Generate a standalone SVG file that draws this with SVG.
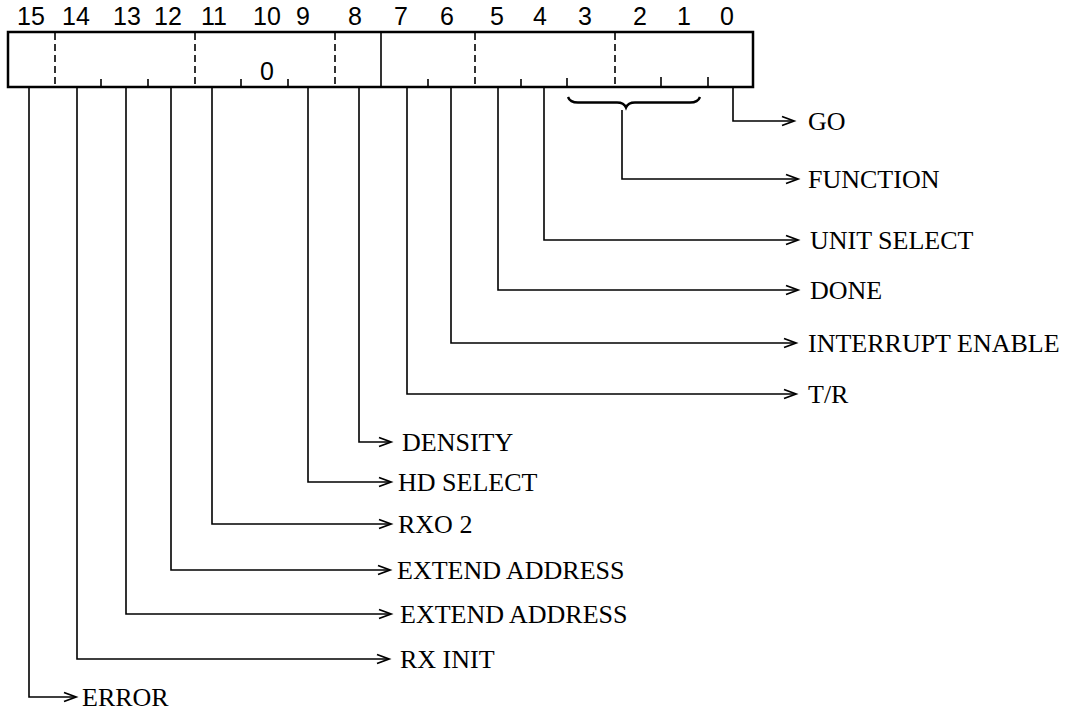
<svg xmlns="http://www.w3.org/2000/svg" width="1065" height="713" viewBox="0 0 1065 713">
<defs>
<style>
.bitnum{font-family:"Liberation Sans",Arial,sans-serif;font-size:25px;fill:#000;text-anchor:middle}
.lbl{font-family:"Liberation Serif","Times New Roman",serif;font-size:26px;fill:#000}
.conn{fill:none;stroke:#000;stroke-width:1.6}
.box{fill:#fff;stroke:#000;stroke-width:2.5}
.dash{stroke:#000;stroke-width:1.6;stroke-dasharray:7 4}
.tick{stroke:#000;stroke-width:1.6}
</style>
<marker id="arr" markerUnits="userSpaceOnUse" markerWidth="16" markerHeight="12" refX="13" refY="6" orient="auto">
<path d="M1,1.5 L13,6 L1,10.5" fill="none" stroke="#000" stroke-width="1.8"/>
</marker>
</defs>
<rect width="1065" height="713" fill="#fff"/>
<g id="bit-numbers">
<text class="bitnum" x="31" y="25">15</text>
<text class="bitnum" x="76" y="25">14</text>
<text class="bitnum" x="127" y="25">13</text>
<text class="bitnum" x="168" y="25">12</text>
<text class="bitnum" x="214" y="25">11</text>
<text class="bitnum" x="267" y="25">10</text>
<text class="bitnum" x="303" y="25">9</text>
<text class="bitnum" x="355" y="25">8</text>
<text class="bitnum" x="401" y="25">7</text>
<text class="bitnum" x="447" y="25">6</text>
<text class="bitnum" x="497" y="25">5</text>
<text class="bitnum" x="540" y="25">4</text>
<text class="bitnum" x="585" y="25">3</text>
<text class="bitnum" x="640" y="25">2</text>
<text class="bitnum" x="684" y="25">1</text>
<text class="bitnum" x="727" y="25">0</text>
</g>
<g id="register">
<rect class="box" x="8" y="32" width="745" height="55"/>
<line class="dash" x1="55" y1="33" x2="55" y2="86"/>
<line class="dash" x1="195" y1="33" x2="195" y2="86"/>
<line class="dash" x1="335" y1="33" x2="335" y2="86"/>
<line class="tick" x1="381" y1="33" x2="381" y2="86"/>
<line class="dash" x1="475" y1="33" x2="475" y2="86"/>
<line class="dash" x1="615" y1="33" x2="615" y2="86"/>
<line class="tick" x1="101" y1="79" x2="101" y2="86"/>
<line class="tick" x1="148" y1="79" x2="148" y2="86"/>
<line class="tick" x1="241" y1="79" x2="241" y2="86"/>
<line class="tick" x1="288" y1="79" x2="288" y2="86"/>
<line class="tick" x1="428" y1="79" x2="428" y2="86"/>
<line class="tick" x1="521" y1="79" x2="521" y2="86"/>
<line class="tick" x1="567" y1="78" x2="567" y2="86"/>
<line class="tick" x1="661" y1="77" x2="661" y2="86"/>
<line class="tick" x1="708" y1="77" x2="708" y2="86"/>
<text class="bitnum" x="267" y="80">0</text>
</g>
<g id="brace">
<path d="M568,97 Q570,102.5 578,102.5 L617,102.5 Q624,102.5 626,107.5 Q628,102.5 635,102.5 L690,102.5 Q698,102.5 700,97" fill="none" stroke="#000" stroke-width="2.4"/>
</g>
<g id="connectors">
<path class="conn" marker-end="url(#arr)" d="M733,87 V121 H794"/>
<path class="conn" marker-end="url(#arr)" d="M622,110 V179 H798"/>
<path class="conn" marker-end="url(#arr)" d="M544,87 V240 H798"/>
<path class="conn" marker-end="url(#arr)" d="M498,87 V290 H798"/>
<path class="conn" marker-end="url(#arr)" d="M451,87 V343 H796"/>
<path class="conn" marker-end="url(#arr)" d="M407,87 V394 H796"/>
<path class="conn" marker-end="url(#arr)" d="M359,87 V442 H391"/>
<path class="conn" marker-end="url(#arr)" d="M308,87 V482 H391"/>
<path class="conn" marker-end="url(#arr)" d="M212,87 V524 H391"/>
<path class="conn" marker-end="url(#arr)" d="M171,87 V570 H390"/>
<path class="conn" marker-end="url(#arr)" d="M126,87 V614 H391"/>
<path class="conn" marker-end="url(#arr)" d="M77,87 V659 H389"/>
<path class="conn" marker-end="url(#arr)" d="M29,87 V697 H76"/>
</g>
<g id="label-go"><text class="lbl" x="808" y="130">GO</text></g>
<g id="label-function"><text class="lbl" x="808" y="188">FUNCTION</text></g>
<g id="label-unit-select"><text class="lbl" x="810" y="249">UNIT SELECT</text></g>
<g id="label-done"><text class="lbl" x="810" y="299">DONE</text></g>
<g id="label-interrupt-enable"><text class="lbl" x="808" y="352">INTERRUPT ENABLE</text></g>
<g id="label-tr"><text class="lbl" x="808" y="403">T/R</text></g>
<g id="label-density"><text class="lbl" x="402" y="451">DENSITY</text></g>
<g id="label-hd-select"><text class="lbl" x="398" y="491">HD SELECT</text></g>
<g id="label-rx02"><text class="lbl" x="398" y="533">RXO 2</text></g>
<g id="label-extend-address-12"><text class="lbl" x="397" y="579">EXTEND ADDRESS</text></g>
<g id="label-extend-address-13"><text class="lbl" x="400" y="623">EXTEND ADDRESS</text></g>
<g id="label-rx-init"><text class="lbl" x="400" y="668">RX INIT</text></g>
<g id="label-error"><text class="lbl" x="82" y="706">ERROR</text></g>
</svg>
